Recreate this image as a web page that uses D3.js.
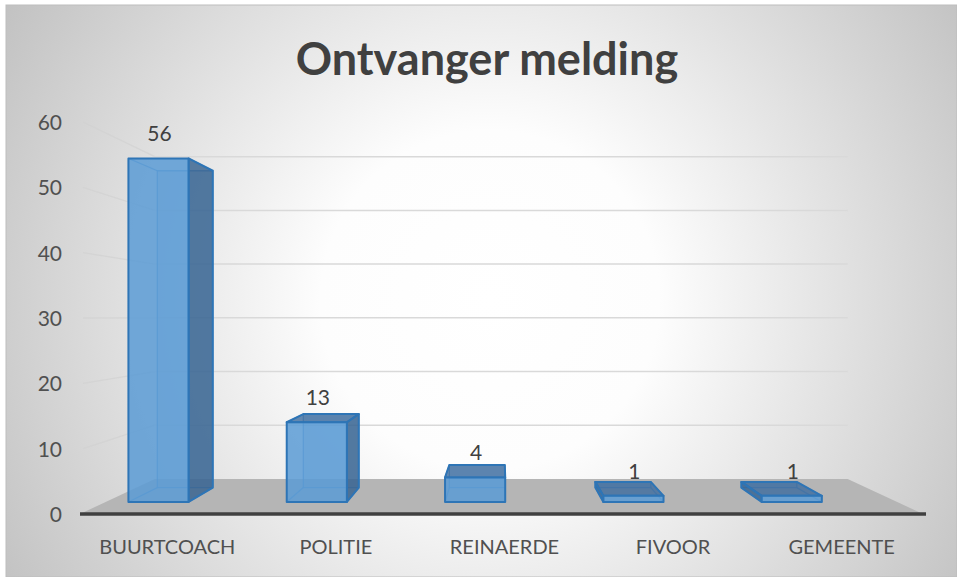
<!DOCTYPE html>
<html>
<head>
<meta charset="utf-8">
<title>Ontvanger melding</title>
<script src="https://cdn.jsdelivr.net/npm/d3@7"></script>
<style>
body { margin: 0; background: #fff; }
svg { display: block; }
</style>
</head>
<body>
<div id="chart"></div>
<script>
// data
const categories = ["BUURTCOACH", "POLITIE", "REINAERDE", "FIVOOR", "GEMEENTE"];
const values = [56, 13, 4, 1, 1];
const yTicks = [0, 10, 20, 30, 40, 50, 60];
const title = "Ontvanger melding";

const W = 957, H = 577;
const svg = d3.select("#chart").append("svg").attr("width", W).attr("height", H);

// front plane scales, then a simple perspective toward vp
const x = d3.scaleBand().domain(categories).range([80, 923]);
const y = d3.scaleLinear().domain([0, 60]).range([514, 122]);
const bw = x.bandwidth();
const vp = [500, 317];
const sWall = 0.822, sFront = 0.939, sBack = 0.866;
const P = (X, Y, s) => [vp[0] + s * (X - vp[0]), vp[1] + s * (Y - vp[1])];
const poly = pts => "M" + pts.map(p => p.join(",")).join("L") + "Z";

const defs = svg.append("defs");
const bg = defs.append("radialGradient").attr("id", "bg")
    .attr("gradientUnits", "userSpaceOnUse")
    .attr("cx", 490).attr("cy", 300).attr("r", 565);
bg.append("stop").attr("offset", 0).attr("stop-color", "#ffffff");
bg.append("stop").attr("offset", 0.3).attr("stop-color", "#fdfdfd");
bg.append("stop").attr("offset", 1).attr("stop-color", "#c2c2c2");

svg.append("rect").attr("x", 6).attr("y", 5).attr("width", W - 6).attr("height", H - 5)
    .attr("fill", "url(#bg)").attr("stroke", "#bdbdbd").attr("stroke-width", 1);

// title
svg.append("text").attr("x", 487).attr("y", 75)
    .attr("text-anchor", "middle")
    .style("font-family", "Lato, 'Open Sans', sans-serif")
    .style("font-weight", "bold").style("font-size", "45px")
    .attr("fill", "#404040").text(title);

// side wall + back wall gridlines
const grid = svg.append("g");
yTicks.filter(t => t > 0).forEach(t => {
    const a = P(80, y(t), 1), b = P(80, y(t), sWall), c = P(923, y(t), sWall);
    grid.append("line").attr("x1", a[0] + 3).attr("y1", a[1]).attr("x2", b[0]).attr("y2", b[1])
        .attr("stroke", "#d2d2d2").attr("stroke-width", 1.3).attr("opacity", 0.7);
    grid.append("line").attr("x1", b[0]).attr("y1", b[1]).attr("x2", c[0]).attr("y2", c[1])
        .attr("stroke", "#d9d9d9").attr("stroke-width", 1.5);
});

// floor
const floor = [P(80, y(0), 1), P(923, y(0), 1), P(923, y(0), sWall), P(80, y(0), sWall)];
svg.append("path").attr("d", poly(floor)).attr("fill", "#b5b5b5");
svg.append("line").attr("x1", 80).attr("y1", y(0)).attr("x2", 926).attr("y2", y(0))
    .attr("stroke", "#404040").attr("stroke-width", 3.5);

// bars
const bars = svg.append("g");
categories.forEach((c, i) => {
    const X0 = x(c) + bw * 0.144, X1 = x(c) + bw * 0.524;
    const Yt = y(values[i]), Yb = y(0);
    const f = [P(X0, Yt, sFront), P(X1, Yt, sFront), P(X1, Yb, sFront), P(X0, Yb, sFront)];
    const b = [P(X0, Yt, sBack), P(X1, Yt, sBack), P(X1, Yb, sBack), P(X0, Yb, sBack)];
    const g = bars.append("g");

    // edges seen through the faces
    g.append("path").attr("d", poly(b)).attr("fill", "#5b9bd5").attr("fill-opacity", 0.25)
        .attr("stroke", "#3f86c8").attr("stroke-width", 1.3).attr("stroke-opacity", 0.7);
    for (let k = 0; k < 4; k++) {
        g.append("line").attr("x1", f[k][0]).attr("y1", f[k][1]).attr("x2", b[k][0]).attr("y2", b[k][1])
            .attr("stroke", "#3f86c8").attr("stroke-width", 1.3).attr("stroke-opacity", 0.7);
    }

    const face = (pts, fill, op) => g.append("path").attr("d", poly(pts))
        .attr("fill", fill).attr("fill-opacity", op)
        .attr("stroke", "#2e75b6").attr("stroke-width", 2).attr("stroke-linejoin", "round");
    if (X1 < vp[0]) face([f[1], b[1], b[2], f[2]], "#36628f", 0.82);
    if (X0 > vp[0]) face([f[0], b[0], b[3], f[3]], "#36628f", 0.82);
    if (f[0][1] > vp[1]) face([f[0], f[1], b[1], b[0]], "#3d6c9e", 0.8);
    face(f, "#5b9bd5", 0.85);

    // value label
    g.append("text").attr("x", (f[0][0] + f[1][0]) / 2 + 1).attr("y", f[0][1] - 17)
        .attr("text-anchor", "middle")
        .style("font-family", "Lato, 'Open Sans', sans-serif").style("font-size", "21px")
        .attr("fill", "#404040").text(values[i]);
});

// y tick labels
svg.append("g").selectAll("text").data(yTicks).join("text")
    .attr("x", 62).attr("y", d => y(d) + 8)
    .attr("text-anchor", "end")
    .style("font-family", "Lato, 'Open Sans', sans-serif").style("font-size", "21px")
    .attr("fill", "#505050").text(d => d);

// category labels
svg.append("g").selectAll("text").data(categories).join("text")
    .attr("x", d => x(d) + bw / 2 + 3).attr("y", 554)
    .attr("text-anchor", "middle")
    .style("font-family", "Lato, 'Open Sans', sans-serif").style("font-size", "20px")
    .attr("fill", "#505050").text(d => d);
</script>
</body>
</html>
